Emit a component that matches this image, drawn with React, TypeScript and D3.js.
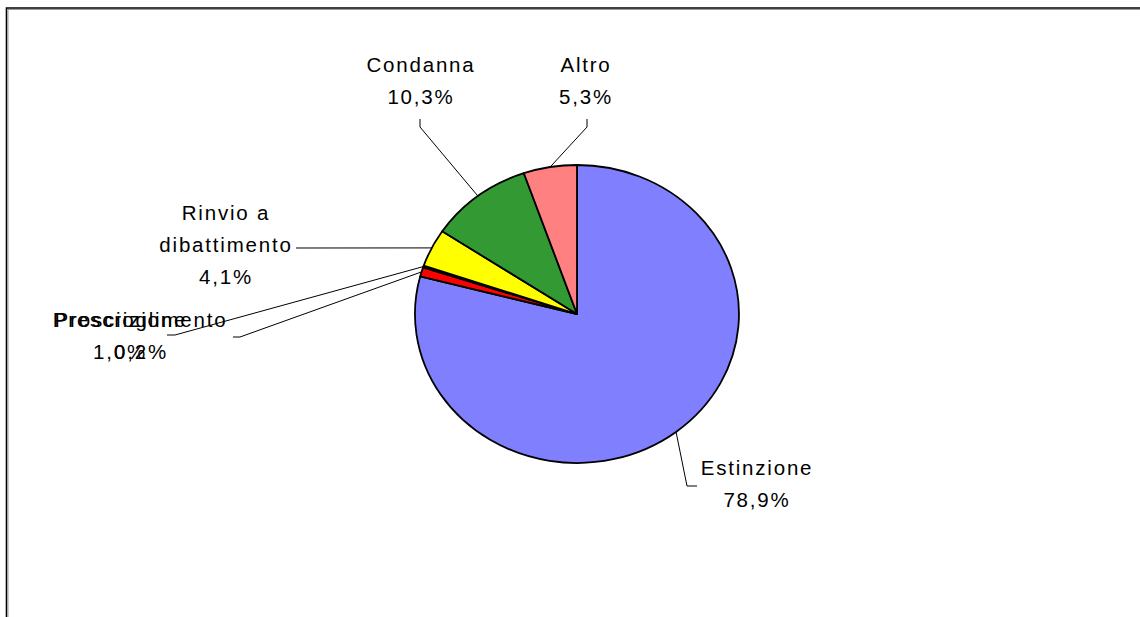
import React from "react";
import * as d3 from "d3";

const categories = ["Estinzione", "Prescrizione", "Proscioglimento", "Rinvio a dibattimento", "Condanna", "Altro"];
const values = [78.9, 1.0, 0.2, 4.1, 10.3, 5.3];
const colors = ["#8080FF", "#FF0000", "#CCFFFF", "#FFFF00", "#339933", "#FF8080"];
const labelLines: string[][] = [["Estinzione"], ["Prescrizione"], ["Proscioglimento"], ["Rinvio a", "dibattimento"], ["Condanna"], ["Altro"]];

// layout of the data labels (positions only)
const labelLayout: Record<string, { x: number; y: number; elbow: [number, number]; end: [number, number] }> = {
  "Estinzione": { x: 757, y: 475, elbow: [687, 486], end: [697, 486] },
  "Prescrizione": { x: 120, y: 327, elbow: [240, 337], end: [233, 337] },
  "Proscioglimento": { x: 141, y: 327, elbow: [175, 335], end: [167, 335] },
  "Rinvio a dibattimento": { x: 226, y: 220, elbow: [296, 248], end: [296, 248] },
  "Condanna": { x: 421, y: 72, elbow: [420, 127], end: [420, 119] },
  "Altro": { x: 586, y: 72, elbow: [587, 127], end: [587, 119] },
};

const W = 1140, H = 617;
const cx = 577, cy = 314, rx = 162, ry = 149;
const lineGap = 32;

export default function App() {
  const data = categories.map((c, i) => ({ name: c, value: values[i], color: colors[i], lines: labelLines[i] }));
  const pie = d3.pie<any>().sort(null).value((d: any) => d.value);
  const arcs = pie(data);
  const arcGen = d3.arc<any>().innerRadius(0).outerRadius(1);
  const fmt = (v: number) => v.toFixed(1).replace(".", ",") + "%";

  return (
    <svg width={W} height={H} style={{ position: "absolute", left: 0, top: 0, background: "#fff" }}
      fontFamily="'Liberation Sans', Arial, sans-serif">
      <rect x={0} y={0} width={W} height={H} fill="#fff" />
      {/* frame */}
      <path d={`M6.5,${H} V8 H${W}`} fill="none" stroke="#000" strokeWidth={1.6} />
      <path d={`M8,${H} V9.5 H${W}`} fill="none" stroke="#999" strokeWidth={1} />
      <g transform={`translate(${cx},${cy}) scale(${rx},${ry})`}>
        {arcs.map((a, i) => (
          <path key={i} d={arcGen(a) as string} fill={a.data.color} stroke="#000" strokeWidth={1.8}
            vectorEffect="non-scaling-stroke" strokeLinejoin="round" />
        ))}
      </g>
      {arcs.map((a, i) => {
        const mid = (a.startAngle + a.endAngle) / 2;
        const px = cx + rx * Math.sin(mid);
        const py = cy - ry * Math.cos(mid);
        const L = labelLayout[a.data.name];
        const lines = [...a.data.lines, fmt(a.data.value)];
        return (
          <g key={"l" + i}>
            <path d={`M${px},${py} L${L.elbow[0]},${L.elbow[1]} L${L.end[0]},${L.end[1]}`} fill="none" stroke="#000" strokeWidth={1} />
            <text x={L.x} y={L.y} textAnchor="middle" fontSize={20.5} letterSpacing={1.8} fill="#000">
              {lines.map((t, j) => (
                <tspan key={j} x={L.x} y={L.y + j * lineGap}>{t}</tspan>
              ))}
            </text>
          </g>
        );
      })}
    </svg>
  );
}
